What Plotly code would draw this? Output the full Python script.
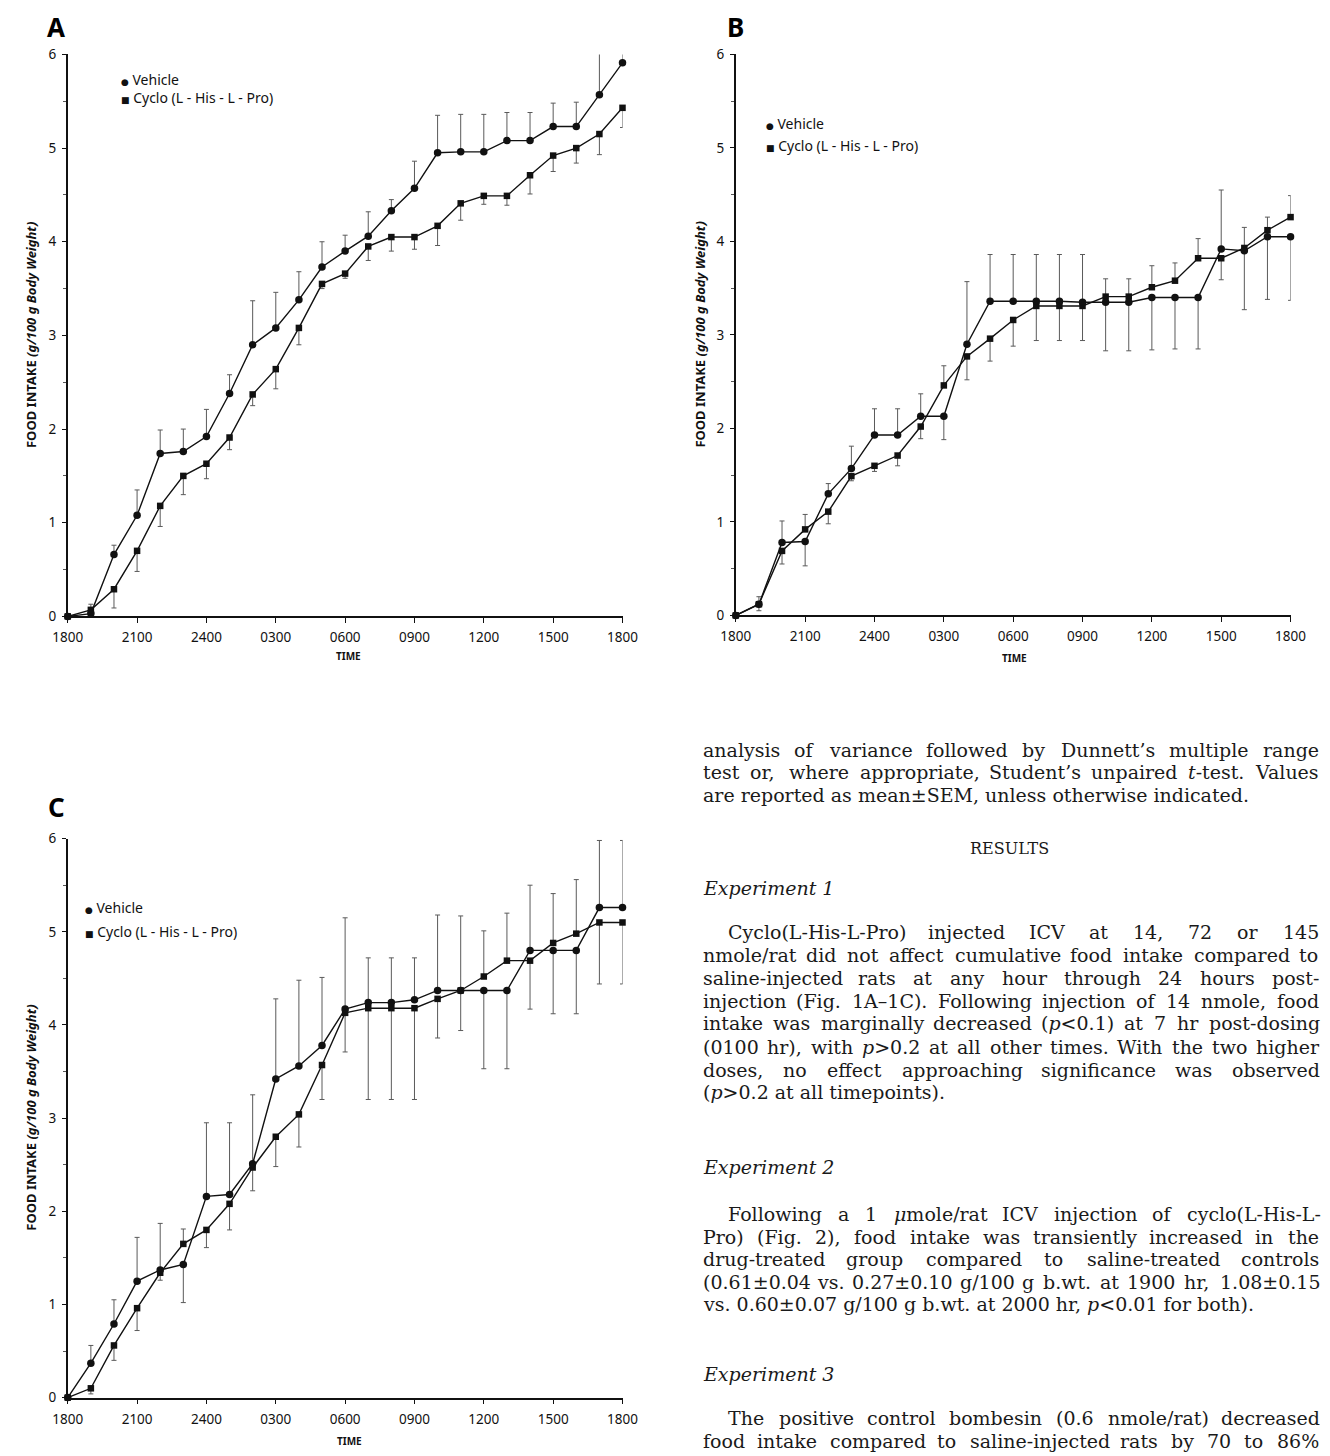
import plotly.graph_objects as go

W, H = 1330, 1456

# ---------------- data ----------------
hours = list(range(25))
tick_hours = [0, 3, 6, 9, 12, 15, 18, 21, 24]
tick_text = ["1800", "2100", "2400", "0300", "0600", "0900", "1200", "1500", "1800"]
y_ticks = [0, 1, 2, 3, 4, 5, 6]
series_names = ["Vehicle", "Cyclo (L - His - L - Pro)"]
panel_letters = ["A", "B", "C"]
y_title = "FOOD INTAKE <i>(g/100 g Body Weight)</i>"
x_title = "TIME"

veh_A = [0, 0.03, 0.66, 1.08, 1.74, 1.76, 1.92, 2.38, 2.90, 3.08, 3.38, 3.73, 3.90,
         4.06, 4.33, 4.57, 4.95, 4.96, 4.96, 5.08, 5.08, 5.23, 5.23, 5.57, 5.91]
cyc_A = [0, 0.07, 0.29, 0.70, 1.18, 1.50, 1.63, 1.91, 2.37, 2.64, 3.08, 3.55, 3.66,
         3.95, 4.05, 4.05, 4.17, 4.41, 4.49, 4.49, 4.71, 4.92, 5.00, 5.15, 5.43]
err_veh_A = [0, 0.03, 0.10, 0.27, 0.25, 0.24, 0.29, 0.20, 0.47, 0.38, 0.30, 0.27, 0.17,
             0.26, 0.12, 0.29, 0.40, 0.40, 0.40, 0.30, 0.30, 0.25, 0.26, 0.49, 0.30]
err_cyc_A = [0, 0.06, 0.20, 0.22, 0.22, 0.20, 0.16, 0.13, 0.12, 0.21, 0.18, 0.05, 0.05,
             0.15, 0.15, 0.13, 0.21, 0.18, 0.09, 0.10, 0.20, 0.17, 0.16, 0.22, 0.21]

veh_B = [0, 0.12, 0.78, 0.79, 1.30, 1.57, 1.93, 1.93, 2.13, 2.13, 2.90, 3.36, 3.36,
         3.36, 3.36, 3.35, 3.35, 3.35, 3.40, 3.40, 3.40, 3.92, 3.90, 4.05, 4.05]
cyc_B = [0, 0.12, 0.69, 0.92, 1.11, 1.49, 1.60, 1.71, 2.02, 2.46, 2.77, 2.96, 3.16,
         3.31, 3.31, 3.31, 3.41, 3.41, 3.51, 3.58, 3.82, 3.82, 3.93, 4.12, 4.26]
err_veh_B = [0, 0.08, 0.23, 0.26, 0.11, 0.24, 0.28, 0.28, 0.24, 0.25, 0.67, 0.50, 0.50,
             0.50, 0.50, 0.51, 0.52, 0.52, 0.56, 0.55, 0.55, 0.63, 0.63, 0.67, 0.68]
err_cyc_B = [0, 0.07, 0.14, 0.16, 0.13, 0.05, 0.06, 0.11, 0.13, 0.21, 0.25, 0.24, 0.28,
             0.37, 0.37, 0.37, 0.19, 0.19, 0.23, 0.19, 0.21, 0.23, 0.22, 0.14, 0.23]

veh_C = [0, 0.37, 0.79, 1.25, 1.37, 1.43, 2.16, 2.18, 2.51, 3.42, 3.56, 3.78, 4.17,
         4.24, 4.24, 4.27, 4.37, 4.37, 4.37, 4.37, 4.80, 4.80, 4.80, 5.26, 5.26]
cyc_C = [0, 0.10, 0.56, 0.96, 1.34, 1.65, 1.80, 2.08, 2.47, 2.80, 3.04, 3.57, 4.13,
         4.18, 4.18, 4.18, 4.28, 4.37, 4.52, 4.69, 4.69, 4.88, 4.98, 5.10, 5.10]
err_veh_C = [0, 0.19, 0.26, 0.47, 0.50, 0.41, 0.79, 0.77, 0.74, 0.86, 0.92, 0.73, 0.98,
             0.48, 0.48, 0.45, 0.81, 0.80, 0.84, 0.84, 0.70, 0.68, 0.68, 0.72, 0.72]
err_cyc_C = [0, 0.06, 0.16, 0.24, 0.08, 0.16, 0.19, 0.28, 0.25, 0.32, 0.35, 0.37, 0.42,
             0.98, 0.98, 0.98, 0.42, 0.43, 0.49, 0.51, 0.52, 0.53, 0.58, 0.66, 0.66]

# page text (text, mode): J = justified, L = left, C = centred, H = heading, P = justified + indent
text_lines = [
    ("analysis of variance followed by Dunnett’s multiple range", "J"),
    ("test or, where appropriate, Student’s unpaired <i>t</i>-test. Values", "J"),
    ("are reported as mean±SEM, unless otherwise indicated.", "L"),
    ("RESULTS", "C"),
    ("<i>Experiment 1</i>", "H"),
    ("Cyclo(L-His-L-Pro) injected ICV at 14, 72 or 145", "P"),
    ("nmole/rat did not affect cumulative food intake compared to", "J"),
    ("saline-injected rats at any hour through 24 hours post-", "J"),
    ("injection (Fig. 1A–1C). Following injection of 14 nmole, food", "J"),
    ("intake was marginally decreased (<i>p</i>&lt;0.1) at 7 hr post-dosing", "J"),
    ("(0100 hr), with <i>p</i>&gt;0.2 at all other times. With the two higher", "J"),
    ("doses, no effect approaching significance was observed", "J"),
    ("(<i>p</i>&gt;0.2 at all timepoints).", "L"),
    ("<i>Experiment 2</i>", "H"),
    ("Following a 1 <i>μ</i>mole/rat ICV injection of cyclo(L-His-L-", "P"),
    ("Pro) (Fig. 2), food intake was transiently increased in the", "J"),
    ("drug-treated group compared to saline-treated controls", "J"),
    ("(0.61±0.04 vs. 0.27±0.10 g/100 g b.wt. at 1900 hr, 1.08±0.15", "J"),
    ("vs. 0.60±0.07 g/100 g b.wt. at 2000 hr, <i>p</i>&lt;0.01 for both).", "L"),
    ("<i>Experiment 3</i>", "H"),
    ("The positive control bombesin (0.6 nmole/rat) decreased", "P"),
    ("food intake compared to saline-injected rats by 70 to 86%", "J"),
]
text_y = [750, 773, 796, 850, 890, 935, 958, 981, 1004, 1027, 1051, 1074, 1097,
          1173, 1220, 1243, 1266, 1289, 1311, 1382, 1427, 1450]

# ---------------- layout helpers ----------------
def fx(px):
    return px / W


def fy(py):
    return 1 - py / H


panels = [
    dict(veh=veh_A, cyc=cyc_A, ev=err_veh_A, ec=err_cyc_A, x0=54, x1=622, yt=46, yb=615,
         ytx=17, tx=341, tty=655, lx=42, ly=18, legx=106, legy=(71, 90)),
    dict(veh=veh_B, cyc=cyc_B, ev=err_veh_B, ec=err_cyc_B, x0=738, x1=1306, yt=46, yb=614,
         ytx=701, tx=1023, tty=657, lx=738, ly=18, legx=767, legy=(116, 138)),
    dict(veh=veh_C, cyc=cyc_C, ev=err_veh_C, ec=err_cyc_C, x0=54, x1=622, yt=840, yb=1406,
         ytx=17, tx=342, tty=1450, lx=42, ly=808, legx=70, legy=(910, 934)),
]

SANS = "Noto Sans, DejaVu Sans, sans-serif"
SERIF = "DejaVu Serif, Liberation Serif, serif"

fig = go.Figure()
annotations = []
layout_axes = {}

for i, p in enumerate(panels, start=1):
    xa = "x" if i == 1 else f"x{i}"
    ya = "y" if i == 1 else f"y{i}"
    veh, cyc = p["veh"], p["cyc"]
    # error bars drawn outward: the upper curve gets its bar upward, the lower downward
    veh_up = [e if v >= c else 0 for v, c, e in zip(veh, cyc, p["ev"])]
    veh_dn = [0 if v >= c else e for v, c, e in zip(veh, cyc, p["ev"])]
    cyc_up = [0 if v >= c else e for v, c, e in zip(veh, cyc, p["ec"])]
    cyc_dn = [e if v >= c else 0 for v, c, e in zip(veh, cyc, p["ec"])]
    for vals, up, dn, sym, sz, name in [
        (cyc, cyc_up, cyc_dn, "square", 6.5, series_names[1]),
        (veh, veh_up, veh_dn, "circle", 7.5, series_names[0]),
    ]:
        fig.add_trace(go.Scatter(
            x=hours, y=vals, xaxis=xa, yaxis=ya, mode="lines+markers", name=name,
            showlegend=False, cliponaxis=False,
            line=dict(color="#111111", width=1.4),
            marker=dict(symbol=sym, size=sz, color="#111111"),
            error_y=dict(type="data", symmetric=False, array=up, arrayminus=dn,
                         color="#5a5a5a", thickness=1, width=2.5),
        ))
    xkey = "xaxis" if i == 1 else f"xaxis{i}"
    ykey = "yaxis" if i == 1 else f"yaxis{i}"
    layout_axes[xkey] = dict(
        domain=[fx(p["x0"]), fx(p["x1"])], anchor=ya, range=[0, 24],
        tickmode="array", tickvals=tick_hours, ticktext=tick_text,
        showline=True, linecolor="#111111", linewidth=1.6, ticks="outside",
        ticklen=5, tickwidth=1.2, tickcolor="#111111", showgrid=False, zeroline=False,
        ticklabelstandoff=3, tickfont=dict(family=SANS, size=13.5, color="#111111"),
        fixedrange=True,
    )
    layout_axes[ykey] = dict(
        domain=[fy(p["yb"]), fy(p["yt"])], anchor=xa, range=[0, 6],
        tickmode="array", tickvals=y_ticks,
        showline=True, linecolor="#111111", linewidth=1.6, ticks="outside",
        ticklen=4, tickwidth=1.2, tickcolor="#111111", showgrid=False, zeroline=False,
        ticklabelstandoff=3, tickfont=dict(family=SANS, size=13.5, color="#111111"),
        minor=dict(dtick=0.5, ticks="outside", ticklen=2.5, tickcolor="#555555", showgrid=False),
        fixedrange=True,
    )
    # y title
    annotations.append(dict(
        x=fx(p["ytx"]), y=fy((p["yt"] + p["yb"]) / 2), xref="paper", yref="paper",
        text=y_title, textangle=-90, showarrow=False, xanchor="center", yanchor="middle",
        font=dict(family=SANS, size=13, color="#111111", weight="bold"),
    ))
    # x title
    annotations.append(dict(
        x=fx(p["tx"]), y=fy(p["tty"]), xref="paper", yref="paper", text=x_title,
        showarrow=False, xanchor="center", yanchor="middle",
        font=dict(family=SANS, size=10, color="#111111", weight="bold"),
    ))
    # panel letter
    annotations.append(dict(
        x=fx(p["lx"]), y=fy(p["ly"]), xref="paper", yref="paper", text=panel_letters[i - 1],
        showarrow=False, xanchor="center", yanchor="middle",
        font=dict(family=SANS, size=26, color="#000000", weight="bold"),
    ))
    # legend
    for glyph, name, ly in zip(["●", "■"], series_names, p["legy"]):
        annotations.append(dict(
            x=fx(p["legx"]), y=fy(ly), xref="paper", yref="paper",
            text=f"<span style='font-size:9px'>{glyph}</span> {name}",
            showarrow=False, xanchor="left", yanchor="middle",
            font=dict(family=SANS, size=14, color="#111111"),
        ))

# ---------------- page text (justified) ----------------
# approximate advance widths of DejaVu Serif (per 1000 em)
TW = {' ': 318, 'a': 596, 'b': 640, 'c': 560, 'd': 640, 'e': 592, 'f': 370, 'g': 640,
      'h': 644, 'i': 320, 'j': 310, 'k': 609, 'l': 320, 'm': 948, 'n': 644, 'o': 602,
      'p': 640, 'q': 640, 'r': 478, 's': 513, 't': 402, 'u': 644, 'v': 565, 'w': 856,
      'x': 564, 'y': 565, 'z': 527, 'A': 722, 'B': 735, 'C': 765, 'D': 802, 'E': 730,
      'F': 694, 'G': 799, 'H': 872, 'I': 395, 'J': 401, 'K': 747, 'L': 664, 'M': 1024,
      'N': 875, 'O': 820, 'P': 673, 'Q': 820, 'R': 753, 'S': 685, 'T': 667, 'U': 843,
      'V': 722, 'W': 1028, 'X': 712, 'Y': 660, 'Z': 695, '.': 318, ',': 318, ';': 337,
      ':': 337, '’': 318, "'": 275, '(': 390, ')': 390, '-': 338, '–': 500, '/': 337,
      '<': 838, '>': 838, '±': 838, '%': 950, 'μ': 650}


def plain(s):
    return (s.replace("<i>", "").replace("</i>", "")
             .replace("&lt;", "<").replace("&gt;", ">"))


def width(s, size):
    return sum(TW.get(ch, 636) for ch in plain(s)) * size / 1000.0


FS = 19
LEFT, RIGHT = 703, 1333
INDENT = 26
tfont = dict(family=SERIF, size=FS, color="#1a1a1a")

for (txt, mode), ty in zip(text_lines, text_y):
    if mode == "C":
        annotations.append(dict(x=fx((LEFT + RIGHT) / 2), y=fy(ty), xref="paper", yref="paper",
                                text=txt, showarrow=False, xanchor="center", yanchor="middle",
                                borderpad=0, font=dict(family=SERIF, size=16, color="#1a1a1a")))
        continue
    if mode in ("L", "H"):
        annotations.append(dict(x=fx(LEFT), y=fy(ty), xref="paper", yref="paper",
                                text=txt, showarrow=False, xanchor="left", yanchor="middle",
                                borderpad=0, font=tfont))
        continue
    start = LEFT + (INDENT if mode == "P" else 0)
    words = txt.split(" ")
    ws = [width(w, FS) for w in words]
    gap = max(4.0, (RIGHT - start - sum(ws)) / (len(words) - 1))
    xpos = start
    for w, wd in zip(words, ws):
        annotations.append(dict(x=fx(xpos), y=fy(ty), xref="paper", yref="paper",
                                text=w, showarrow=False, xanchor="left", yanchor="middle",
                                borderpad=0, font=tfont))
        xpos += wd + gap

fig.update_layout(
    width=W, height=H, margin=dict(l=0, r=0, t=0, b=0, pad=0),
    paper_bgcolor="white", plot_bgcolor="white", showlegend=False,
    annotations=annotations, **layout_axes,
)

fig.write_html("out.html", config={"displayModeBar": False},
               post_script="document.body.style.margin='0';document.body.style.overflow='hidden';")
